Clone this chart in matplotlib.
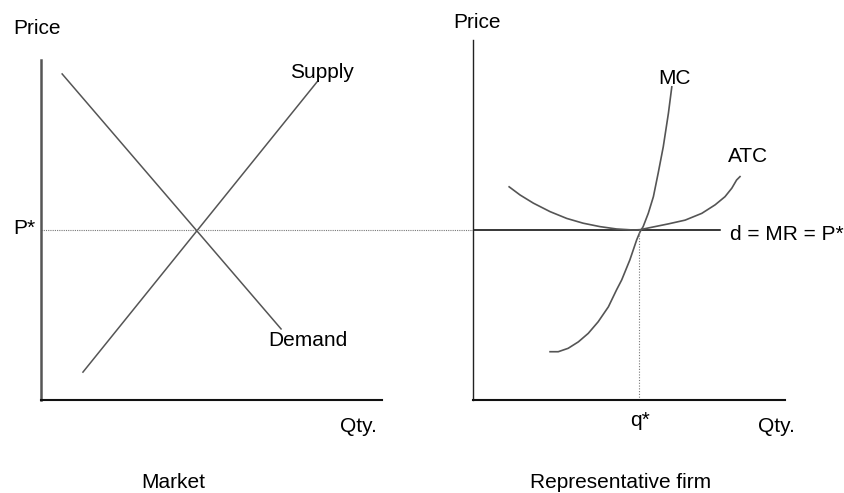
import matplotlib
matplotlib.use("Agg")
import matplotlib.pyplot as plt

# ---------------- data (economic units) ----------------
# Market panel
demand_q = [0.62, 7.04]
demand_p = [9.59, 2.09]
supply_q = [1.23, 8.09]
supply_p = [0.82, 9.35]
p_star = 5.0

# Representative firm panel
mc_q = [2.26, 2.50, 2.79, 3.09, 3.38, 3.67, 3.97, 4.21, 4.36, 4.60, 4.80,
        4.90, 4.99, 5.14, 5.29, 5.43, 5.58, 5.73, 5.83]
mc_c = [1.42, 1.42, 1.52, 1.71, 1.96, 2.30, 2.74, 3.24, 3.53, 4.12, 4.71,
        4.95, 5.10, 5.49, 5.98, 6.67, 7.45, 8.43, 9.21]
atc_q = [1.06, 1.38, 1.77, 2.26, 2.75, 3.23, 3.72, 4.21, 4.70, 4.90, 5.24,
         5.73, 6.22, 6.71, 7.10, 7.39, 7.59, 7.73, 7.83]
atc_c = [6.27, 6.03, 5.79, 5.54, 5.34, 5.20, 5.10, 5.03, 5.00, 5.01, 5.08,
         5.18, 5.29, 5.49, 5.74, 5.98, 6.23, 6.47, 6.57]
mr_q = [0.0, 7.24]
q_star = 4.88

labels_left = {"price": "Price", "pstar": "P*", "supply": "Supply",
               "demand": "Demand", "qty": "Qty.", "title": "Market"}
labels_right = {"price": "Price", "mc": "MC", "atc": "ATC",
                "mr": "d = MR = P*", "qstar": "q*", "qty": "Qty.",
                "title": "Representative firm"}

# ---------------- figure ----------------
W, H = 844, 493
plt.rcParams['font.family'] = ['Liberation Sans', 'DejaVu Sans']
fig = plt.figure(figsize=(W / 100, H / 100), dpi=100)
fig.patch.set_facecolor("white")


def box(x0, x1, ytop, ybot):
    return [x0 / W, 1 - ybot / H, (x1 - x0) / W, (ybot - ytop) / H]


def px(x, y):
    return (x / W, 1 - y / H)


PXU_X = 34.1
PXU_Y = 34.0

axL = fig.add_axes(box(41, 382, 60, 400))
axR = fig.add_axes(box(473, 785, 40, 400))

axL.set_xlim(0, 341 / PXU_X)
axL.set_ylim(0, 340 / PXU_Y)
axR.set_xlim(0, 312 / PXU_X)
axR.set_ylim(0, 360 / PXU_Y)

for ax in (axL, axR):
    ax.set_xticks([])
    ax.set_yticks([])
    ax.spines['top'].set_visible(False)
    ax.spines['right'].set_visible(False)
    ax.patch.set_alpha(0)

axL.spines['left'].set_color('#555555')
axL.spines['left'].set_linewidth(1.8)
axL.spines['bottom'].set_color('#111111')
axL.spines['bottom'].set_linewidth(1.5)
axR.spines['left'].set_color('#222222')
axR.spines['left'].set_linewidth(1.0)
axR.spines['bottom'].set_color('#111111')
axR.spines['bottom'].set_linewidth(1.5)

curve_col = '#555555'
# Market
axL.plot(demand_q, demand_p, color=curve_col, lw=1.1)
axL.plot(supply_q, supply_p, color=curve_col, lw=1.1)
# P* dotted line across to the firm's axis
axL.plot([0, (473 - 41) / PXU_X], [p_star, p_star], color='#777777',
         lw=0.8, ls=(0, (1, 1)), clip_on=False)

# Firm
axR.plot(mr_q, [p_star, p_star], color='black', lw=1.1)
axR.plot(atc_q, atc_c, color=curve_col, lw=1.2, solid_joinstyle='round')
axR.plot(mc_q, mc_c, color=curve_col, lw=1.2, solid_joinstyle='round')
axR.plot([q_star, q_star], [0, p_star], color='#777777', lw=0.8,
         ls=(0, (1, 1.5)))

fs = 15
txt = dict(fontsize=fs, color='black', va='baseline', ha='left')
fig.text(*px(13, 34.5), labels_left["price"], **txt)
fig.text(*px(13, 233.5), labels_left["pstar"], **txt)
fig.text(*px(290, 77.5), labels_left["supply"], **txt)
fig.text(*px(268, 346.5), labels_left["demand"], **txt)
fig.text(*px(340, 431.5), labels_left["qty"], **txt)
fig.text(*px(141.5, 488.5), labels_left["title"], **txt)

fig.text(*px(453, 27.5), labels_right["price"], **txt)
fig.text(*px(658, 84), labels_right["mc"], **txt)
fig.text(*px(728, 162.5), labels_right["atc"], **txt)
fig.text(*px(729.5, 240), labels_right["mr"], **txt)
fig.text(*px(630.5, 426.5), labels_right["qstar"], **txt)
fig.text(*px(758, 431.5), labels_right["qty"], **txt)
fig.text(*px(530.5, 488.5), labels_right["title"], **txt)

fig.savefig("out.png", dpi=100, facecolor="white")
